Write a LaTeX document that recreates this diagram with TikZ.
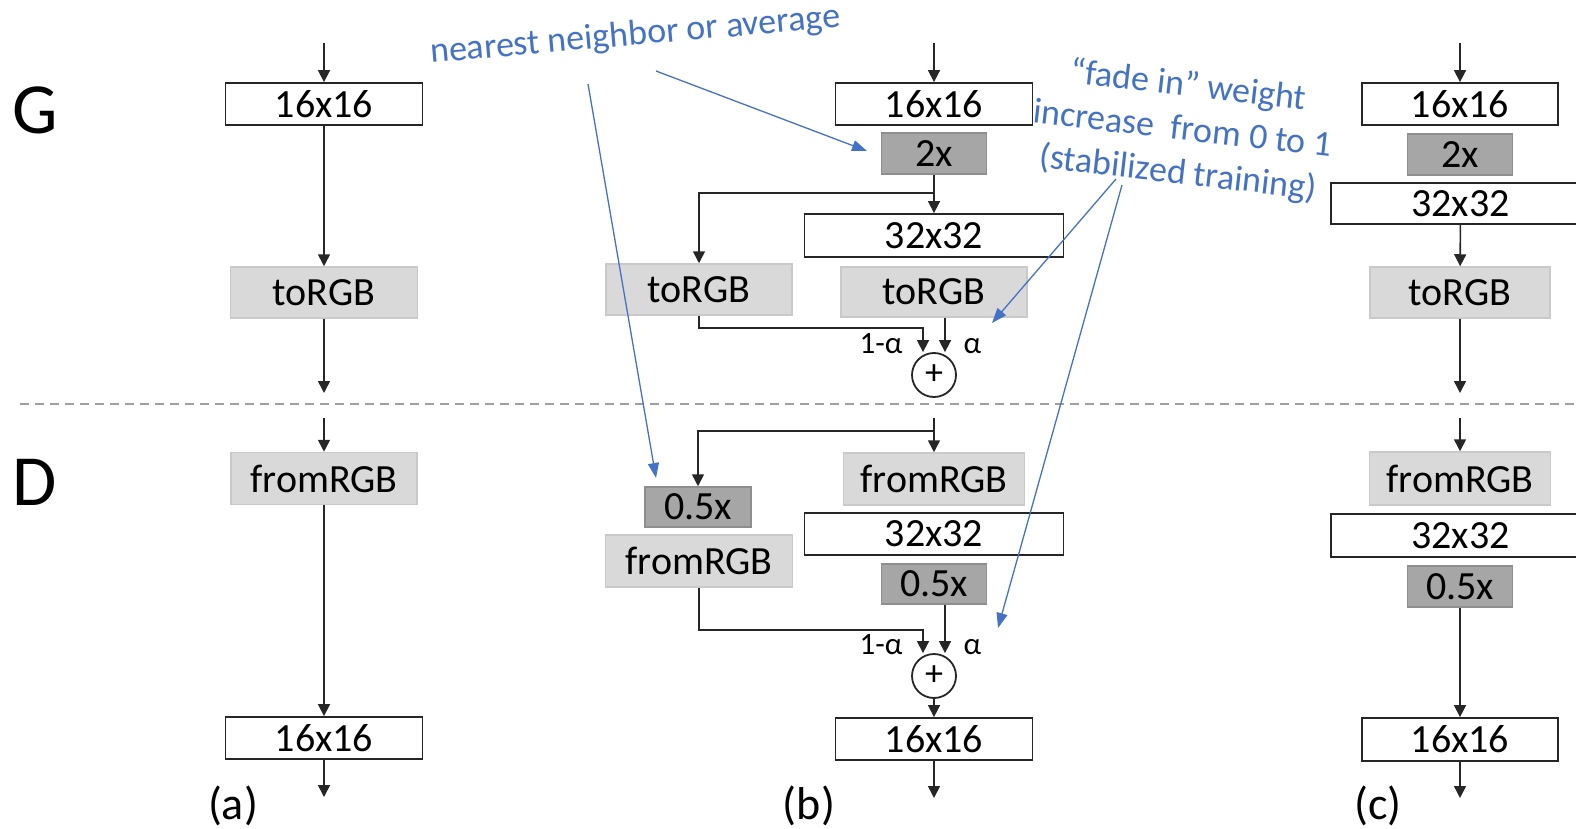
\documentclass[tikz,border=0pt]{standalone}
\usepackage{fontspec}
\setmainfont{Carlito}
\usetikzlibrary{arrows.meta}
\definecolor{notecol}{HTML}{4472C4}
\definecolor{lightbox}{HTML}{D9D9D9}
\definecolor{lightedge}{HTML}{C9C9C9}
\definecolor{darkbox}{HTML}{A6A6A6}
\definecolor{darkedge}{HTML}{8E8E8E}
\definecolor{sepcol}{HTML}{A0A0A0}
\begin{document}
\begin{tikzpicture}[x=1pt,y=-1pt,
  res/.style={draw=black!85, line width=1.8pt, fill=white, inner sep=0pt, minimum height=42pt, font=\fontsize{40}{42}\selectfont},
  rgb/.style={draw=lightedge, line width=1.5pt, fill=lightbox, inner sep=0pt, minimum height=51pt, font=\fontsize{40}{42}\selectfont},
  scl/.style={draw=darkedge, line width=1.5pt, fill=darkbox, inner sep=0pt, minimum width=105pt, minimum height=41pt, font=\fontsize{40}{42}\selectfont},
  sum/.style={circle, draw=black!85, line width=1.8pt, fill=white, inner sep=0pt, minimum size=44pt, font=\fontsize{36}{36}\selectfont},
  arr/.style={-{Triangle[length=12pt,width=12pt]}, line width=1.6pt, draw=black!85},
  wgt/.style={font=\fontsize{31}{32}\selectfont},
  tag/.style={font=\fontsize{46}{48}\selectfont},
  side/.style={font=\fontsize{72}{72}\selectfont},
  notetext/.style={text=notecol, inner sep=0pt, font=\fontsize{36}{44}\selectfont},
  note/.style={-{Triangle[length=15pt,width=11pt]}, line width=1.3pt, draw=notecol},
  sep/.style={draw=sepcol, line width=1.8pt, dash pattern=on 9pt off 6pt},
]
\useasboundingbox (0,0) rectangle (1576,829);
\clip (0,0) rectangle (1576,829);

\node[side] (gen) at (35,110) {G};
\node[side] (dis) at (35,482) {D};
\draw[sep] (20,404) -- (1576,404);

\coordinate (a0) at (324,43);
\node[res, minimum width=197pt] (a16) at (324,104) {16x16};
\node[rgb, minimum width=187pt] (argb) at (324,292.5) {toRGB};
\coordinate (a1) at (324,393);
\coordinate (a2) at (324,418);
\node[rgb, minimum width=186pt, minimum height=52pt] (afrom) at (324,478.5) {fromRGB};
\node[res, minimum width=197pt] (a16d) at (324,738) {16x16};
\coordinate (a3) at (324,797);
\node[tag, anchor=base] (alab) at (233,819) {(a)};
\draw[arr] (a0) -- (a16);
\draw[arr] (a16) -- (argb);
\draw[arr] (argb) -- (a1);
\draw[arr] (a2) -- (afrom);
\draw[arr] (afrom) -- (a16d);
\draw[arr] (a16d) -- (a3);

\coordinate (b0) at (934,43);
\node[res, minimum width=197pt] (b16) at (934,104) {16x16};
\node[scl] (b2x) at (934,153.5) {2x};
\coordinate (bsplit) at (934,193);
\node[res, minimum width=259pt, minimum height=43pt] (b32) at (934,235.5) {32x32};
\node[rgb, minimum width=186pt] (bto1) at (699,289.5) {toRGB};
\node[rgb, minimum width=186pt, minimum height=50pt] (bto2) at (934,292) {toRGB};
\node[sum] (bsum) at (934,375) {+};
\node[wgt, anchor=base east] (bw1) at (906,353) {1-α};
\node[wgt, anchor=base west] (bw2) at (960,353) {α};
\draw[arr] (b0) -- (b16);
\draw[arr] (b2x) -- (b32);
\draw[arr] (bsplit) -| (bto1);
\draw[arr] (bto1.south) -- ++(0,12) -| ([xshift=-11pt]bsum.north);
\draw[arr] ([xshift=11pt]bto2.south) -- ([xshift=11pt]bsum.north);

\coordinate (b4) at (934,418);
\coordinate (bsplit2) at (934,431);
\node[rgb, minimum width=181pt, minimum height=52pt] (bfrom2) at (934,479) {fromRGB};
\node[res, minimum width=259pt] (b32d) at (934,534) {32x32};
\node[scl, minimum height=40pt] (bhalf2) at (934,584) {0.5x};
\node[scl, minimum width=106pt, minimum height=40pt] (bhalf1) at (698,507) {0.5x};
\node[rgb, minimum width=187pt, minimum height=52pt] (bfrom1) at (699,561) {fromRGB};
\node[sum] (bsumd) at (934,676) {+};
\node[wgt, anchor=base east] (bw3) at (906,654) {1-α};
\node[wgt, anchor=base west] (bw4) at (960,654) {α};
\node[res, minimum width=197pt] (b16d) at (934,739) {16x16};
\coordinate (b5) at (934,798);
\node[tag, anchor=base] (blab) at (809,819) {(b)};
\draw[arr] (b4) -- (bfrom2);
\draw[arr] (bsplit2) -| (bhalf1);
\draw[arr] (bfrom1.south) -- ++(0,42) -| ([xshift=-11pt]bsumd.north);
\draw[arr] ([xshift=11pt]bhalf2.south) -- ([xshift=11pt]bsumd.north);
\draw[arr] (bsumd) -- (b16d);
\draw[arr] (b16d) -- (b5);

\coordinate (c0) at (1460,43);
\node[res, minimum width=196pt] (c16) at (1460,104) {16x16};
\node[scl] (c2x) at (1460,154.5) {2x};
\node[res, minimum width=259pt, minimum height=41pt] (c32) at (1460.5,203.5) {32x32};
\node[rgb, minimum width=180pt] (crgb) at (1460,292.5) {toRGB};
\coordinate (c1) at (1460,393);
\coordinate (c2) at (1460,418);
\node[rgb, minimum width=181pt, minimum height=53pt] (cfrom) at (1460,478.5) {fromRGB};
\node[res, minimum width=259pt, minimum height=43pt] (c32d) at (1460.5,535.5) {32x32};
\node[scl] (chalf) at (1460,586.5) {0.5x};
\node[res, minimum width=196pt, minimum height=43pt] (c16d) at (1460,739.5) {16x16};
\coordinate (c3) at (1460,798);
\node[tag, anchor=base] (clab) at (1378,819) {(c)};
\draw[arr] (c0) -- (c16);
\draw[arr] (c32) -- (crgb);
\draw[arr] (crgb) -- (c1);
\draw[arr] (c2) -- (cfrom);
\draw[arr] (chalf) -- (c16d);
\draw[arr] (c16d) -- (c3);

\node[notetext, rotate=5, anchor=base] (nnote) at (636,45) {nearest neighbor or average};
\node[notetext, rotate=-6.5, align=center] (fnote) at (1183,130) {“fade in” weight\\increase\ \ from 0 to 1\\(stabilized training)};
\coordinate (n1a) at (656,71);
\coordinate (n1b) at (867,151);
\coordinate (n2a) at (588,84);
\coordinate (n2b) at (656,478);
\coordinate (f1a) at (1116,179);
\coordinate (f1b) at (992,323);
\coordinate (f2a) at (1122,185);
\coordinate (f2b) at (998,628);
\draw[note] (n1a) -- (n1b);
\draw[note] (n2a) -- (n2b);
\draw[note] (f1a) -- (f1b);
\draw[note] (f2a) -- (f2b);
\end{tikzpicture}
\end{document}
